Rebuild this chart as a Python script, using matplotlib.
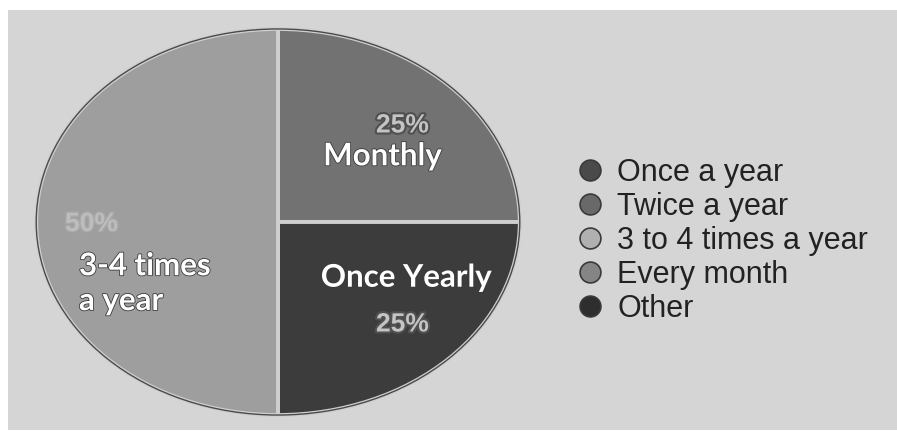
import matplotlib
matplotlib.use("Agg")
import matplotlib.pyplot as plt
import matplotlib.patheffects as pe
from matplotlib.lines import Line2D
from matplotlib.patches import Rectangle, Ellipse

# Slice data (clockwise from 12 o'clock)
slice_names = ["Monthly", "Once Yearly", "3-4 times\na year"]
slice_values = [25, 25, 50]
slice_colors = ["#727272", "#3c3c3c", "#9e9e9e"]

# Legend entries
legend_labels = ["Once a year", "Twice a year", "3 to 4 times a year", "Every month", "Other"]
legend_colors = ["#4a4a4a", "#696969", "#b0b0b0", "#858585", "#2e2e2e"]

W, H = 897, 434
fig = plt.figure(figsize=(W / 100, H / 100), dpi=100, facecolor="white")

# grey panel behind everything
fig.patches.append(Rectangle((8 / W, 4 / H), 1 - 8 / W, (424 - 4) / H,
                             transform=fig.transFigure, facecolor="#d5d5d5",
                             edgecolor="none", zorder=-10))

# pie axes: stretched box so the pie is drawn as an ellipse
cx, cy, rx, ry = 278, 222, 243, 194
ax = fig.add_axes([(cx - rx) / W, (H - cy - ry) / H, 2 * rx / W, 2 * ry / H])
ax.set_zorder(1)
ax.patch.set_visible(False)
wedges, _ = ax.pie(slice_values, colors=slice_colors, startangle=90,
                   counterclock=False, radius=1,
                   wedgeprops=dict(edgecolor="#cfcfcf", linewidth=2.8))
ax.add_patch(Ellipse((0, 0), 2, 2, facecolor="none", edgecolor="#4a4a4a",
                     linewidth=1.0, zorder=5))
ax.set_aspect("auto")
ax.set_xlim(-1.005, 1.005)
ax.set_ylim(-1.005, 1.005)
ax.axis("off")

pct_style = dict(fontsize=19, fontweight="bold", color="#c4c4c4",
                 family="Liberation Sans",
                 path_effects=[pe.withStroke(linewidth=3, foreground="#505050")])
name_style = dict(fontsize=22.5, fontweight="bold", color="white", family="Lato",
                  path_effects=[pe.withStroke(linewidth=1.2, foreground="#3a3a3a")])

def px(x, y):
    return (x - cx) / rx, (cy - y) / ry

# Monthly
ax.text(*px(403, 125), f"{slice_values[0]}%", ha="center", va="center", **pct_style)
ax.text(*px(383, 156), slice_names[0], ha="center", va="center", **name_style)
# Once Yearly
ax.text(*px(407, 278), slice_names[1], ha="center", va="center", **name_style)
ax.text(*px(403, 325), f"{slice_values[1]}%", ha="center", va="center", **pct_style)
# 3-4 times a year
ax.text(*px(64, 224), f"{slice_values[2]}%", ha="left", va="center",
        **{**pct_style, "color": "#bdbdbd",
           "path_effects": [pe.withStroke(linewidth=2, foreground="#a8a8a8")]})
ax.text(*px(78, 284), slice_names[2], ha="left", va="center",
        linespacing=1.3, **name_style)

handles = [Line2D([], [], linestyle="none", marker="o", markersize=15,
                  markerfacecolor=c, markeredgecolor="#3a3a3a", markeredgewidth=1.2)
           for c in legend_colors]
fig.legend(handles, legend_labels, loc="upper left",
           bbox_to_anchor=(576 / W, 1 - 158 / H), frameon=False,
           prop={"family": "Liberation Sans", "size": 22},
           labelcolor="#222222", handlelength=0.9, handletextpad=0.45,
           labelspacing=0.13, borderaxespad=0, borderpad=0)

fig.savefig("out.png", dpi=100, facecolor="white")
